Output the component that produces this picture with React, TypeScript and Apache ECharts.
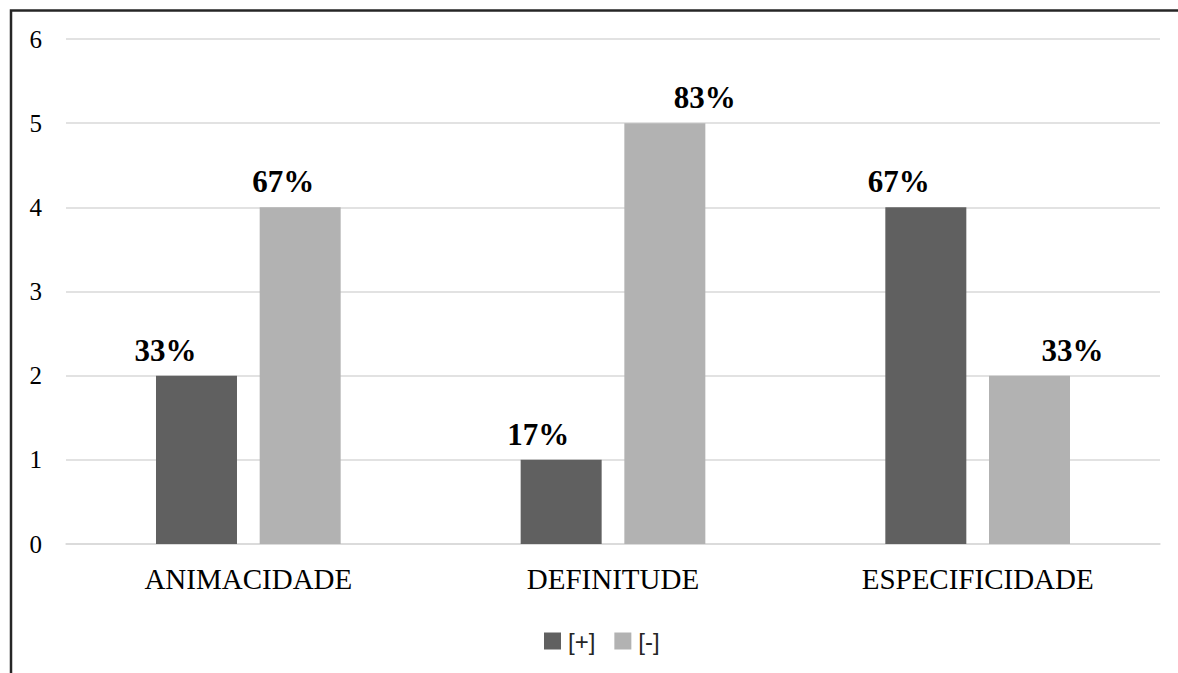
import React, { useEffect, useRef } from "react";
import * as echarts from "echarts";

// Counts per category for each polarity
const categories = ["ANIMACIDADE", "DEFINITUDE", "ESPECIFICIDADE"];
const seriesNames = ["[+]", "[-]"];
const positiveCounts = [2, 1, 4];
const negativeCounts = [4, 5, 2];
const yTicks = { min: 0, max: 6, interval: 1 };

// Horizontal nudges for the percentage labels (px), per bar
const positiveLabelShift = [-31, -23, -27];
const negativeLabelShift = [-17, 40, 43];

const colors = ["#606060", "#b2b2b2"];

const serif = "'Liberation Serif', 'Times New Roman', serif";

export default function App() {
  const ref = useRef<HTMLDivElement>(null);

  useEffect(() => {
    if (!ref.current) return;
    const chart = echarts.init(ref.current, undefined, { renderer: "svg" });

    const totals = categories.map((_, i) => positiveCounts[i] + negativeCounts[i]);
    const pct = (v: number, i: number) => Math.round((100 * v) / totals[i]) + "%";

    const makeData = (vals: number[], shifts: number[]) =>
      vals.map((v, i) => ({
        value: v,
        label: { offset: [shifts[i], 0], formatter: () => pct(v, i) },
      }));

    const labelStyle = {
      show: true,
      position: "top" as const,
      distance: 10,
      fontFamily: serif,
      fontWeight: "bold" as const,
      fontSize: 31,
      color: "#000",
    };

    chart.setOption({
      animation: false,
      backgroundColor: "#fff",
      grid: { left: 66, right: 18, top: 39, bottom: 129 },
      legend: {
        data: seriesNames,
        left: 539,
        top: 624,
        itemWidth: 17,
        itemHeight: 17,
        itemGap: 19,
        icon: "rect",
        textStyle: {
          fontFamily: "'Liberation Sans', Arial, sans-serif",
          fontSize: 24,
          color: "#262626",
          padding: [0, 0, 0, 2],
        },
      },
      xAxis: {
        type: "category",
        data: categories,
        axisTick: { show: false },
        axisLine: { lineStyle: { color: "#d9d9d9", width: 1.5 } },
        axisLabel: {
          margin: 20,
          fontFamily: serif,
          fontSize: 29,
          color: "#000",
        },
      },
      yAxis: {
        type: "value",
        min: yTicks.min,
        max: yTicks.max,
        interval: yTicks.interval,
        axisLine: { show: false },
        axisTick: { show: false },
        splitLine: { lineStyle: { color: "#d9d9d9", width: 1.5 } },
        axisLabel: {
          margin: 24,
          fontFamily: serif,
          fontSize: 25,
          color: "#000",
        },
      },
      series: [
        {
          name: seriesNames[0],
          type: "bar",
          barWidth: 81,
          barGap: "28%",
          itemStyle: { color: colors[0] },
          label: labelStyle,
          data: makeData(positiveCounts, positiveLabelShift),
        },
        {
          name: seriesNames[1],
          type: "bar",
          barWidth: 81,
          barGap: "28%",
          itemStyle: { color: colors[1] },
          label: labelStyle,
          data: makeData(negativeCounts, negativeLabelShift),
        },
      ],
      // Frame: top and left edges only
      graphic: [
        {
          type: "polyline",
          shape: { points: [[11, 673], [11, 10.5], [1178, 10.5]] },
          style: { stroke: "#262626", lineWidth: 2.5, fill: null },
          silent: true,
        },
      ],
    });

    return () => chart.dispose();
  }, []);

  return (
    <div
      ref={ref}
      style={{ position: "absolute", left: 0, top: 0, width: 1178, height: 673 }}
    />
  );
}
